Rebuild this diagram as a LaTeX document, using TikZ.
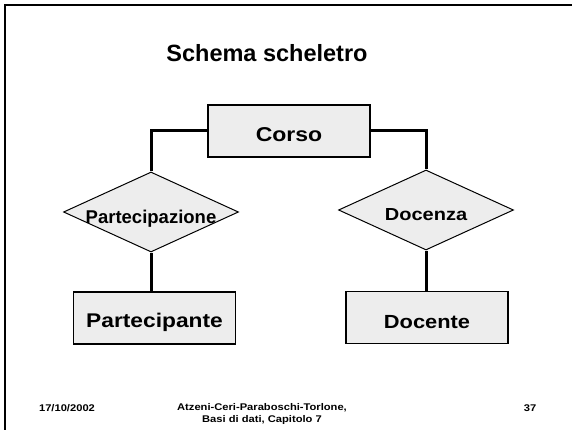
\documentclass[tikz,border=0pt]{standalone}
\usepackage{fontspec}
\setmainfont{Liberation Sans}
\newfontfamily\widesans{Liberation Sans}[FakeStretch=1.15]
\usetikzlibrary{shapes.geometric}

\begin{document}
\begin{tikzpicture}[x=1pt,y=-1pt,
        entity/.style={draw,line width=1.3pt,fill=black!7,minimum width=162pt,minimum height=52pt,inner sep=0pt,text height=22pt,text depth=0pt},
        relation/.style={draw,line width=1pt,fill=black!7,shape=diamond,aspect=2.17,inner sep=0pt,minimum width=175pt,minimum height=80pt,text height=22pt,text depth=0pt},
        link/.style={line width=3pt},
        footer/.style={font=\widesans\fontsize{9.7}{11.5}\selectfont\bfseries}]
        \useasboundingbox (0,0) rectangle (572,430);
        \draw [line width=2pt] (5,430) -- (5,5) -- (572,5);

        \node [font=\fontsize{23.5}{28}\selectfont\bfseries] (title) at (267,53) {Schema scheletro};

        \node [entity,font=\widesans\fontsize{20}{24}\selectfont\bfseries] (corso) at (289,131) {Corso};
        \node [relation,font=\fontsize{18.5}{22}\selectfont\bfseries] (partecipazione) at (151,212) {\makebox[0pt]{Partecipazione}};
        \node [relation,font=\widesans\fontsize{17.4}{21}\selectfont\bfseries] (docenza) at (426,210) {\makebox[0pt]{Docenza}};
        \node [entity,text height=18pt,font=\widesans\fontsize{19.8}{24}\selectfont\bfseries] (partecipante) at (154.5,318) {Partecipante};
        \node [entity,font=\widesans\fontsize{19}{23}\selectfont\bfseries] (docente) at (427,317.5) {Docente};

        \draw [link] (corso.west) -| (partecipazione.north);
        \draw [link] (corso.east) -| (docenza.north);
        \draw [link] (partecipazione.south) -- (partecipazione.south |- partecipante.north);
        \draw [link] (docenza.south) -- (docenza.south |- docente.north);

        \node [footer] (data) at (67,408) {17/10/2002};
        \node [footer,align=center] (autori) at (262,414) {Atzeni-Ceri-Paraboschi-Torlone,\\ Basi di dati, Capitolo 7};
        \node [footer] (pagina) at (530,408) {37};
    \end{tikzpicture}
\end{document}
